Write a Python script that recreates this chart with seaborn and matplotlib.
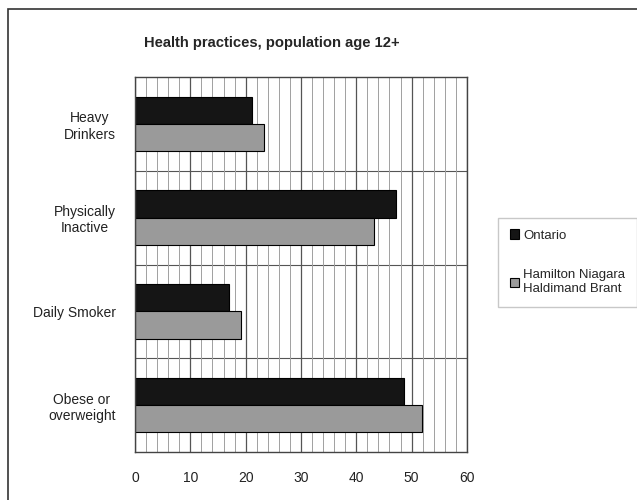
import numpy as np
import pandas as pd
import matplotlib
matplotlib.use("Agg")
import matplotlib.pyplot as plt
import seaborn as sns
from matplotlib.patches import Rectangle

categories = ["Heavy\nDrinkers", "Physically\nInactive", "Daily Smoker", "Obese or\noverweight"]
ontario = [21.1, 47.2, 16.9, 48.6]
hnhb = [23.3, 43.2, 19.1, 51.8]
series_names = ["Ontario", "Hamilton Niagara\nHaldimand Brant"]
x_ticks = [0, 10, 20, 30, 40, 50, 60]

df = pd.DataFrame({
    "category": categories * 2,
    "value": ontario + hnhb,
    "series": [series_names[0]] * 4 + [series_names[1]] * 4,
})

sns.set_style("white")
plt.rcParams["font.family"] = ["Liberation Sans", "DejaVu Sans"]

fig = plt.figure(figsize=(6.37, 5), dpi=100)
ax = fig.add_axes([0.212, 0.096, 0.521, 0.75])

sns.barplot(data=df, y="category", x="value", hue="series", orient="h",
            palette=["#151515", "#9a9a9a"], width=0.58, edgecolor="black",
            linewidth=0.8, ax=ax, legend=True)

ax.set_xlim(0, 60)
ax.set_xticks(x_ticks)
ax.set_xticks(np.arange(0, 61, 2), minor=True)
ax.grid(True, which="minor", axis="x", color="#a0a0a0", linewidth=0.7)
ax.grid(True, which="major", axis="x", color="#555555", linewidth=0.9)
ax.set_axisbelow(True)
# separators between categories
for y in [0.5, 1.5, 2.5]:
    ax.axhline(y, color="#555555", linewidth=0.8, zorder=0.5)
ax.set_ylim(3.5, -0.5)
ax.set_xlabel("")
ax.set_ylabel("")
for s in ax.spines.values():
    s.set_color("#444444")
    s.set_linewidth(1.0)
ax.tick_params(axis="x", labelsize=10, length=0, pad=14, colors="#222222")
ax.tick_params(axis="y", labelsize=10, length=0, pad=14, colors="#222222")
for lab in ax.get_yticklabels():
    lab.set_multialignment("center")

handles, labels = ax.get_legend_handles_labels()
ax.legend_.remove()
fig.legend(handles, labels, loc="upper left", bbox_to_anchor=(0.772, 0.578),
           frameon=True, fontsize=9.5, handlelength=0.7, handleheight=0.7,
           handletextpad=0.3, labelspacing=2.1, borderpad=0.9,
           fancybox=False, edgecolor="#bbbbbb")

fig.text(0.427, 0.915, "Health practices, population age 12+", ha="center",
         va="center", fontsize=10.6, fontweight="bold")

fig.patches.append(Rectangle((0.012, -0.1), 1.2, 1.083, transform=fig.transFigure,
                             fill=False, edgecolor="#333333", linewidth=1.2))

fig.savefig("out.png", dpi=100)
